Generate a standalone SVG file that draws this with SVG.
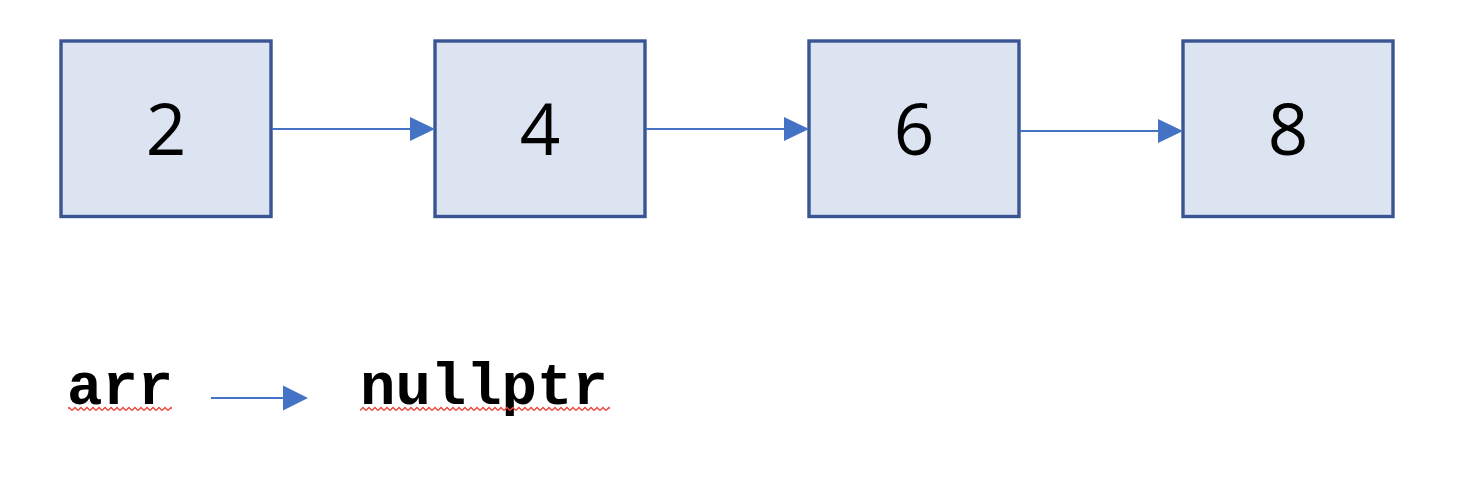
<svg xmlns="http://www.w3.org/2000/svg" width="1462" height="482" viewBox="0 0 1462 482">
<style>
.box{fill:#DCE4F2;stroke:#3A5593;stroke-width:3.4}
.num{font-family:"Open Sans","Liberation Sans",sans-serif;font-size:71px;fill:#000;text-anchor:middle}
.code{font-family:"Liberation Mono","Courier New",monospace;font-weight:bold;font-size:59px;fill:#000}
.conn{stroke:#4472C4;stroke-width:2;fill:none}
.head{fill:#4472C4}
</style>
<defs>
<pattern id="squiggle" patternUnits="userSpaceOnUse" x="0" y="406" width="6" height="6">
<path d="M0 4.5 L3 1.5 L6 4.5" stroke="#E8463A" stroke-width="1.4" fill="none"/>
</pattern>
</defs>
<rect width="1462" height="482" fill="#fff"/>
<g id="node-2"><rect class="box" x="61" y="41" width="210" height="175.5"/><text class="num" x="166" y="155">2</text></g>
<g id="node-4"><rect class="box" x="435" y="41" width="210" height="175.5"/><text class="num" x="540" y="155">4</text></g>
<g id="node-6"><rect class="box" x="809" y="41" width="210" height="175.5"/><text class="num" x="914" y="155">6</text></g>
<g id="node-8"><rect class="box" x="1183" y="41" width="210" height="175.5"/><text class="num" x="1288" y="155">8</text></g>
<g id="label-arr"><text class="code" x="67" y="404">arr</text>
<rect x="68" y="406" width="104" height="6" fill="url(#squiggle)"/></g>
<g id="label-nullptr"><text class="code" x="360" y="404">nullptr</text>
<rect x="360" y="406" width="250" height="6" fill="url(#squiggle)"/></g>
<g id="connectors">
<line class="conn" x1="272" y1="129" x2="411" y2="129"/><polygon class="head" points="410,117 435,129 410,141"/>
<line class="conn" x1="646" y1="129" x2="785" y2="129"/><polygon class="head" points="784,117 809,129 784,141"/>
<line class="conn" x1="1020" y1="131" x2="1159" y2="131"/><polygon class="head" points="1158,119 1183,131 1158,143"/>
<line class="conn" x1="211" y1="398" x2="284" y2="398"/><polygon class="head" points="283,385.5 308,398 283,410.5"/>
</g>
</svg>
